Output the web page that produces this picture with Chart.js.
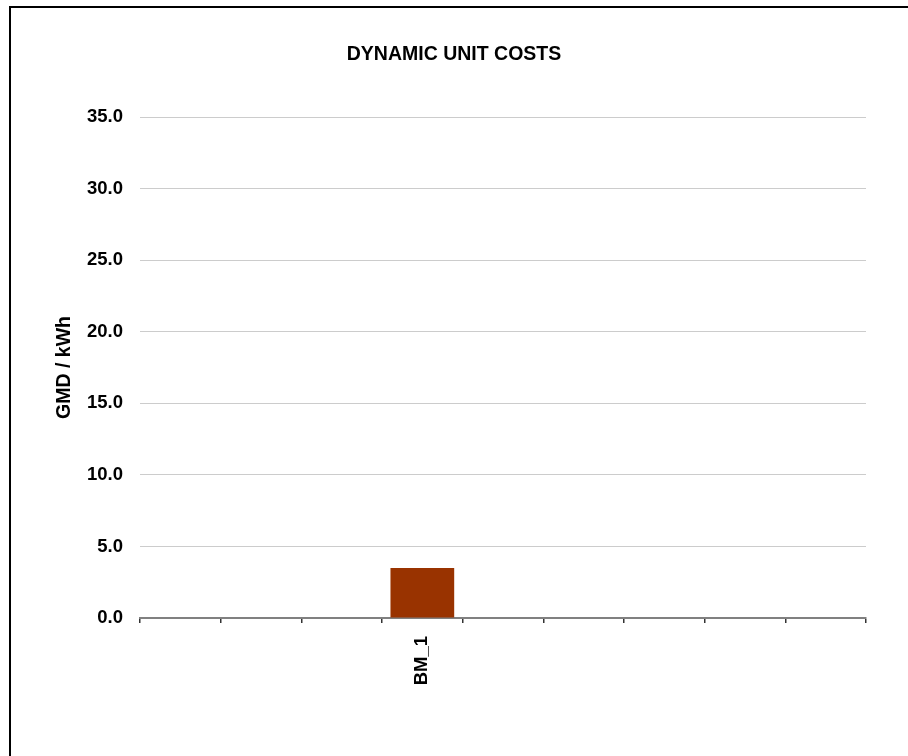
<!DOCTYPE html>
<html>
<head>
<meta charset="utf-8">
<script src="https://cdn.jsdelivr.net/npm/chart.js@4/dist/chart.umd.min.js"></script>
<style>
  html, body { margin: 0; padding: 0; background: #ffffff; }
  #wrap { position: relative; width: 908px; height: 756px; overflow: hidden; }
  #frame {
    position: absolute; left: 9px; top: 6px; width: 1000px; height: 1000px;
    border-top: 2px solid #000; border-left: 2px solid #000;
  }
  #chart { position: absolute; left: 0; top: 0; }
</style>
</head>
<body>
<div id="wrap">
  <div id="frame"></div>
  <canvas id="chart" width="908" height="756"></canvas>
</div>
<script>
// Generating units (only one unit slot is filled)
const units = ['', '', '', 'BM_1', '', '', '', '', ''];
// Dynamic unit cost per unit, GMD / kWh
const unitCosts = [null, null, null, 3.5, null, null, null, null, null];
// Value axis ticks
const yTicks = [0, 5, 10, 15, 20, 25, 30, 35];

const FONT = "Arial, 'Liberation Sans', sans-serif";

new Chart(document.getElementById('chart'), {
  type: 'bar',
  data: {
    labels: units,
    datasets: [{
      label: 'Dynamic unit cost',
      data: unitCosts,
      backgroundColor: '#993300',
      borderWidth: 0,
      barPercentage: 1.0,
      categoryPercentage: 0.79
    }]
  },
  options: {
    responsive: false,
    animation: false,
    layout: { padding: { left: 21, right: 21, top: 0, bottom: 0 } },
    plugins: {
      legend: { display: false },
      tooltip: { enabled: false },
      title: {
        display: true,
        text: 'DYNAMIC UNIT COSTS',
        color: '#000',
        font: { family: FONT, size: 19.5, weight: 'bold', lineHeight: 1.2 },
        padding: { top: 42.5, bottom: 51.1 }
      }
    },
    scales: {
      x: {
        type: 'category',
        offset: true,
        afterFit: (s) => { s.height = 138; },
        border: { display: true, color: '#808080', width: 2 },
        grid: {
          offset: true,
          drawOnChartArea: false,
          drawTicks: true,
          tickLength: 5,
          color: '#333333',
          lineWidth: 1.5
        },
        ticks: {
          autoSkip: false,
          minRotation: 90,
          maxRotation: 90,
          padding: 13,
          color: '#000',
          font: { family: FONT, size: 18.5, weight: 'bold' }
        }
      },
      y: {
        min: 0,
        max: 35,
        afterFit: (s) => { s.width = 119; },
        afterBuildTicks: (s) => { s.ticks = yTicks.map(v => ({ value: v })); },
        border: { display: false },
        grid: {
          color: '#cccccc',
          lineWidth: 1,
          drawTicks: false
        },
        ticks: {
          padding: 17,
          color: '#000',
          font: { family: FONT, size: 18.5, weight: 'bold' },
          callback: (v) => Number(v).toFixed(1)
        },
        title: {
          display: true,
          text: 'GMD / kWh',
          color: '#000',
          font: { family: FONT, size: 19.5, weight: 'bold', lineHeight: 1.2 },
          padding: { top: 32.3, bottom: 0 }
        }
      },
      // empty right-hand margin of the plot
      yRight: {
        type: 'linear',
        position: 'right',
        afterFit: (s) => { s.width = 21; },
        border: { display: false },
        grid: { display: false },
        ticks: { display: false }
      }
    }
  }
});
</script>
</body>
</html>
